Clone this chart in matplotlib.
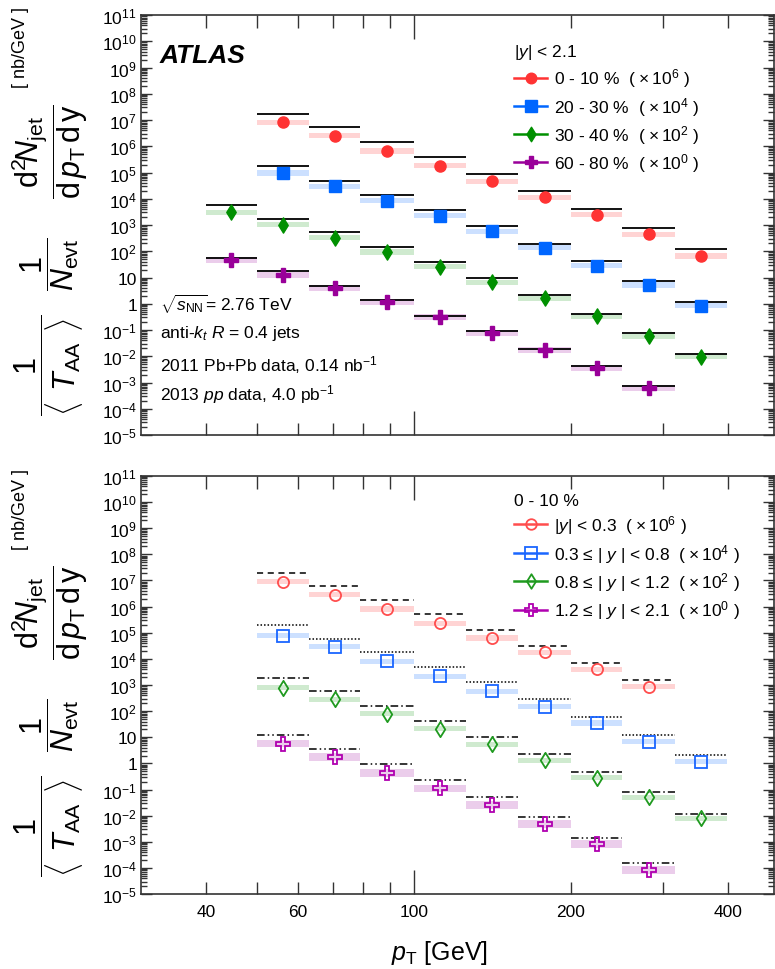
import numpy as np
import matplotlib
matplotlib.use("Agg")
import matplotlib.pyplot as plt
from matplotlib.lines import Line2D
from matplotlib.path import Path
from matplotlib.ticker import FixedLocator, FixedFormatter, NullFormatter

plt.rcParams['font.family'] = ['Liberation Sans', 'DejaVu Sans']
plt.rcParams['mathtext.fontset'] = 'custom'
plt.rcParams['mathtext.rm'] = 'Liberation Sans'
plt.rcParams['mathtext.it'] = 'Liberation Sans:italic'
plt.rcParams['mathtext.bf'] = 'Liberation Sans:bold'

nan = np.nan

# jet pT bins [GeV]
bin_lo = [40, 50, 63, 79, 100, 126, 158, 200, 251, 316]
bin_hi = [50, 63, 79, 100, 126, 158, 200, 251, 316, 398]
bin_x = [44.7, 56.1, 70.5, 88.9, 112, 141, 178, 224, 282, 355]

# |y| < 2.1, centrality classes (already multiplied by the scale factor)
cent_0_10 = [nan, 8.1e6, 2.5e6, 6.6e5, 1.8e5, 4.6e4, 1.12e4, 2.5e3, 440, 66]
cent_20_30 = [nan, 9.6e4, 3.0e4, 8.5e3, 2.3e3, 575, 137, 28, 5.2, 0.85]
cent_30_40 = [3.0e3, 1.03e3, 330, 94, 26, 6.6, 1.6, 0.33, 0.057, 0.0096]
cent_60_80 = [47, 13, 4.1, 1.2, 0.30, 0.077, 0.017, 0.0035, 6.3e-4, nan]
# pp reference for the same classes
pp_0_10 = [nan, 1.7e7, 5.2e6, 1.49e6, 3.8e5, 9.1e4, 2.0e4, 3.9e3, 770, 122]
pp_20_30 = [nan, 1.78e5, 4.9e4, 1.43e4, 3.6e3, 910, 195, 41, 7.1, 1.12]
pp_30_40 = [5.9e3, 1.7e3, 525, 149, 38, 9.3, 2.15, 0.41, 0.074, 0.0118]
pp_60_80 = [55, 17, 4.9, 1.38, 0.35, 0.089, 0.019, 0.0041, 7.4e-4, nan]
sys_cent = [1.25, 1.25, 1.25, 1.3]

# 0-10 %, rapidity slices
rap_03 = [nan, 8.9e6, 2.8e6, 8.1e5, 2.3e5, 6.3e4, 1.8e4, 4.0e3, 850, nan]
rap_08 = [nan, 7.8e4, 2.9e4, 8.2e3, 2.2e3, 585, 148, 35, 6.6, 1.15]
rap_12 = [nan, 780, 280, 78, 21, 5.4, 1.33, 0.28, 0.051, 0.0079]
rap_21 = [nan, 5.7, 1.8, 0.44, 0.11, 0.026, 0.0049, 8.3e-4, 8.5e-5, nan]
pp_03 = [nan, 2.0e7, 6.3e6, 1.8e6, 5.0e5, 1.28e5, 3.0e4, 7.2e3, 1.5e3, nan]
pp_08 = [nan, 2.0e5, 5.8e4, 1.85e4, 4.7e3, 1.25e3, 282, 59, 12.6, 2.05]
pp_12 = [nan, 1.8e3, 565, 162, 41, 10.5, 2.2, 0.48, 0.082, 0.0112]
pp_21 = [nan, 12.6, 3.6, 0.93, 0.24, 0.050, 0.0089, 0.00136, 1.6e-4, nan]
sys_rap = [1.25, 1.25, 1.25, 1.4]

cent_labels = [r'0 - 10 %  ( $\times\,10^{6}$ )',
               r'20 - 30 %  ( $\times\,10^{4}$ )',
               r'30 - 40 %  ( $\times\,10^{2}$ )',
               r'60 - 80 %  ( $\times\,10^{0}$ )']
rap_labels = [r'$|y|$ < 0.3  ( $\times\,10^{6}$ )',
              r'0.3 ≤ | $y$ | < 0.8  ( $\times\,10^{4}$ )',
              r'0.8 ≤ | $y$ | < 1.2  ( $\times\,10^{2}$ )',
              r'1.2 ≤ | $y$ | < 2.1  ( $\times\,10^{0}$ )']

ytick_vals = [10.0 ** k for k in range(-5, 12)]
ytick_labels = ['$10^{-5}$', '$10^{-4}$', '$10^{-3}$', '$10^{-2}$', '$10^{-1}$',
                '1', '10', '$10^{2}$', '$10^{3}$', '$10^{4}$', '$10^{5}$',
                '$10^{6}$', '$10^{7}$', '$10^{8}$', '$10^{9}$', '$10^{10}$',
                '$10^{11}$']
xtick_minor = [40, 50, 60, 70, 80, 90, 200, 300, 400]
xtick_minor_labels = ['40', '', '60', '', '', '', '200', '', '400']

col_top = ['#ff3333', '#0066ff', '#009000', '#990099']
band_top = ['#ffd4d4', '#cce0ff', '#cfeacf', '#ebcdeb']
col_bot = ['#ff4d4d', '#1a66ff', '#1f9a1f', '#b000b0']
band_bot = ['#ffd4d4', '#cce0ff', '#cfeacf', '#ebcdeb']

diamond = Path([(0, 1), (0.62, 0), (0, -1), (-0.62, 0), (0, 1)],
               [Path.MOVETO, Path.LINETO, Path.LINETO, Path.LINETO, Path.CLOSEPOLY])
markers = ['o', 's', diamond, 'P']
msizes = [8, 8.5, 11, 9.5]
ref_styles = [(0, (4, 3)), (0, (1, 1.3)), (0, (5, 2, 1, 2)), (0, (5, 2, 1, 2, 1, 2))]


def draw_series(ax, y, ref, sysf, color, band, marker, ms, open_marker, ref_ls):
    y = np.array(y, dtype=float)
    ref = np.array(ref, dtype=float)
    lo = np.array(bin_lo, dtype=float)
    hi = np.array(bin_hi, dtype=float)
    ok = ~np.isnan(y)
    # systematic band over the full bin width
    ax.bar(lo[ok], y[ok] * sysf - y[ok] / sysf, width=hi[ok] - lo[ok],
           bottom=y[ok] / sysf, align='edge', color=band, linewidth=0, zorder=1)
    okr = ~np.isnan(ref)
    ax.hlines(ref[okr], lo[okr], hi[okr], colors='k',
              linestyles=ref_ls, linewidth=1.3 if ref_ls == '-' else 1.1, zorder=2)
    x = np.array(bin_x)
    if open_marker:
        ax.plot(x[ok], y[ok], linestyle='none', marker=marker, ms=ms,
                mfc='none', mec=color, mew=1.3, zorder=3)
    else:
        ax.plot(x[ok], y[ok], linestyle='none', marker=marker, ms=ms,
                color=color, mec=color, zorder=3)


def setup_axes(ax, show_xlabels):
    ax.set_xscale('log')
    ax.set_yscale('log')
    ax.set_xlim(30, 490)
    ax.set_ylim(1e-5, 1e11)
    ax.yaxis.set_major_locator(FixedLocator(ytick_vals))
    ax.yaxis.set_major_formatter(FixedFormatter(ytick_labels))
    minor_y = [m * 10.0 ** k for k in range(-5, 11) for m in range(2, 10)]
    ax.yaxis.set_minor_locator(FixedLocator(minor_y))
    ax.yaxis.set_minor_formatter(NullFormatter())
    ax.xaxis.set_major_locator(FixedLocator([100]))
    ax.xaxis.set_minor_locator(FixedLocator(xtick_minor))
    if show_xlabels:
        ax.xaxis.set_major_formatter(FixedFormatter(['100']))
        ax.xaxis.set_minor_formatter(FixedFormatter(xtick_minor_labels))
    else:
        ax.xaxis.set_major_formatter(NullFormatter())
        ax.xaxis.set_minor_formatter(NullFormatter())
    ax.tick_params(axis='both', which='both', direction='in', top=True, right=True,
                   labelsize=12.5, width=1, color='#333333')
    ax.tick_params(axis='x', which='major', length=17, pad=7)
    ax.tick_params(axis='x', which='minor', length=9, pad=7)
    ax.tick_params(axis='y', which='major', length=8, pad=3)
    ax.tick_params(axis='y', which='minor', length=4)
    for s in ax.spines.values():
        s.set_linewidth(1.2)
        s.set_color('#333333')


fig = plt.figure(figsize=(7.75, 9.7), dpi=100)
ax1 = fig.add_axes([0.182, 0.5505, 0.8167, 0.433])
ax2 = fig.add_axes([0.182, 0.0773, 0.8167, 0.431])

# upper panel: centrality dependence
cent_data = [cent_0_10, cent_20_30, cent_30_40, cent_60_80]
cent_pp = [pp_0_10, pp_20_30, pp_30_40, pp_60_80]
for i in range(4):
    draw_series(ax1, cent_data[i], cent_pp[i], sys_cent[i], col_top[i], band_top[i],
                markers[i], msizes[i], False, '-')
setup_axes(ax1, False)

handles = [Line2D([], [], color=col_top[i], marker=markers[i], ms=msizes[i] * 0.95,
                  lw=1.8) for i in range(4)]
ax1.legend(handles, cent_labels, title=r'$|y|$ < 2.1', loc='upper left',
           bbox_to_anchor=(0.59, 0.935), frameon=False, fontsize=12.5,
           title_fontsize=12.5, handlelength=1.9, handletextpad=0.35,
           labelspacing=0.3, borderpad=0, borderaxespad=0, alignment='left')

ax1.text(0.03, 0.905, 'ATLAS', transform=ax1.transAxes, fontsize=19,
         fontweight='bold', fontstyle='italic', va='center')
ax1.text(0.03, 0.312, r'$\sqrt{s_{\rm NN}}$= 2.76 TeV', transform=ax1.transAxes,
         fontsize=12.5, va='center')
ax1.text(0.03, 0.245, r'anti-$k_{t}$ $R$ = 0.4 jets', transform=ax1.transAxes,
         fontsize=12.5, va='center')
ax1.text(0.03, 0.169, r'2011 Pb+Pb data, 0.14 nb$^{-1}$', transform=ax1.transAxes,
         fontsize=12.5, va='center')
ax1.text(0.03, 0.098, r'2013 $pp$ data, 4.0 pb$^{-1}$', transform=ax1.transAxes,
         fontsize=12.5, va='center')

# lower panel: rapidity dependence in 0-10 %
rap_data = [rap_03, rap_08, rap_12, rap_21]
rap_pp = [pp_03, pp_08, pp_12, pp_21]
for i in range(4):
    draw_series(ax2, rap_data[i], rap_pp[i], sys_rap[i], col_bot[i], band_bot[i],
                markers[i], msizes[i], True, ref_styles[i])
setup_axes(ax2, True)

handles = [Line2D([], [], color=col_bot[i], marker=markers[i], ms=msizes[i] * 0.95,
                  mfc='none', mec=col_bot[i], mew=1.3, lw=1.8) for i in range(4)]
ax2.legend(handles, rap_labels, title='0 - 10 %', loc='upper left',
           bbox_to_anchor=(0.59, 0.96), frameon=False, fontsize=12.5,
           title_fontsize=12.5, handlelength=1.9, handletextpad=0.35,
           labelspacing=0.32, borderpad=0, borderaxespad=0, alignment='left')

ax2.set_xlabel(r'$p_{\rm T}$ [GeV]', fontsize=18)
ax2.xaxis.set_label_coords(0.472, -0.105)

# y-axis titles, one piece at a time (pixel rows from the top of each panel)
ylab_parts = [r'$\dfrac{{\rm d}^{2}\!N_{\rm jet}}{{\rm d}\,p_{\rm T}\,{\rm d}\,{\rm y}}$',
              r'$\dfrac{\;1\;}{N_{\rm evt}}$',
              r'$\dfrac{1}{\langle\;\,T_{\rm AA}\;\,\rangle}$']
part_rows = [152, 264, 365]
for top in [16, 477]:
    for txt, row in zip(ylab_parts, part_rows):
        fig.text(0.064, 1 - (top - 16 + row) / 970, txt, rotation=90, fontsize=22,
                 ha='center', va='center', rotation_mode='anchor')
    fig.text(0.026, 1 - (top - 16 + 48) / 970, '[ nb/GeV ]', rotation=90,
             fontsize=13, ha='center', va='center', rotation_mode='anchor')

fig.savefig('out.png', dpi=100)
